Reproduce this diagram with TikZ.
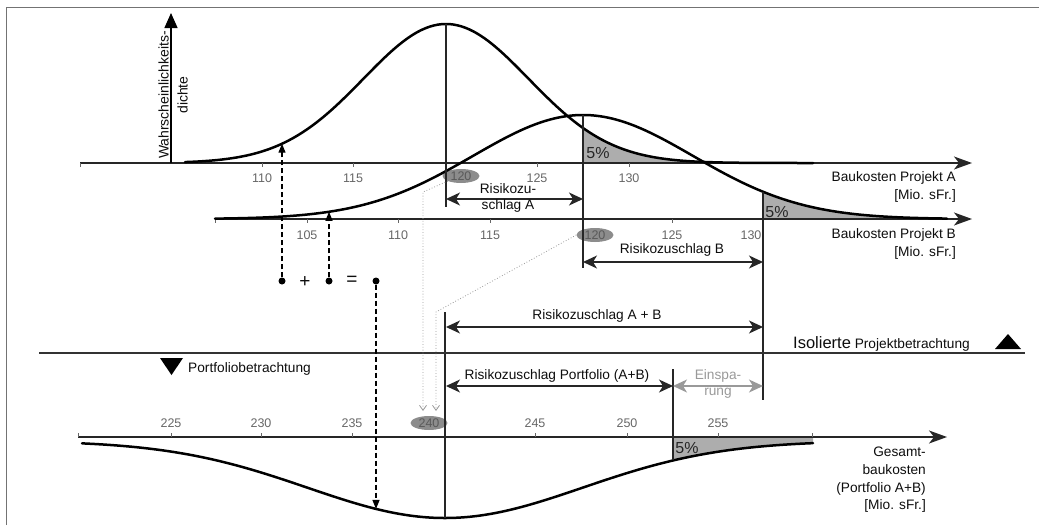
\documentclass[tikz,border=0pt]{standalone}
\usepackage{fontspec}
\setmainfont{Liberation Sans}
\usetikzlibrary{arrows.meta,shapes.geometric}
\begin{document}
\begin{tikzpicture}[x=1pt,y=-1pt,
  declare function={
    fa(\x)=163-139*exp(-0.5*((\x-446)/82.5)*((\x-446)/82.5));
    fb(\x)=219-104*exp(-0.5*((\x-583)/110)*((\x-583)/110));
    fp(\x)=441+77*exp(-0.5*((\x-445)/137.5)*((\x-445)/137.5));
  },
  lbl/.style={font=\fontsize{13.7}{18}\selectfont, text=black!95, inner sep=0pt, align=center},
  rlbl/.style={font=\fontsize{13.7}{17.7}\selectfont, text=black!95, inner sep=0pt, align=right, anchor=east},
  ticklbl/.style={font=\fontsize{12.5}{14}\selectfont, text=black!60, inner sep=0pt},
  pct/.style={font=\fontsize{16}{18}\selectfont, text=black!85, inner sep=0pt},
  oval/.style={ellipse, fill=black!45, text=black!65, inner sep=0pt, minimum width=37pt, minimum height=14pt, font=\fontsize{12.5}{14}\selectfont},
  axisline/.style={line width=1.3pt, black!85, -{Stealth[length=18pt,width=13pt,inset=5pt]}},
  curve/.style={line width=2.5pt, line join=round, line cap=round},
  vline/.style={line width=1.2pt, black!85},
  tickmark/.style={line width=0.8pt, black!60},
  dbl/.style={line width=1.3pt, black!85, {Stealth[length=14pt,width=13pt,inset=4pt]}-{Stealth[length=14pt,width=13pt,inset=4pt]}},
  dblgray/.style={line width=1.3pt, black!40, {Stealth[length=14pt,width=13pt,inset=4pt]}-{Stealth[length=14pt,width=13pt,inset=4pt]}},
  dasharr/.style={line width=1.3pt, dash pattern=on 5pt off 3pt, -{Triangle[length=9pt,width=7pt]}},
  dotarr/.style={line width=0.8pt, black!40, dotted, -{Straight Barb[length=5pt,width=7pt]}},
  knot/.style={circle, fill=black, inner sep=0pt, minimum size=7pt},
  shade5/.style={fill=black!32},
]
\useasboundingbox (0,0) rectangle (1039,525);
% frame
\coordinate (fr1) at (6,525); \coordinate (fr2) at (6,7); \coordinate (fr3) at (1039,7);
\draw[line width=1pt, black!55] (fr1) -- (fr2) -- (fr3);

% shaded tails
\fill[shade5] (583,163) -- plot[domain=583:813,samples=60] (\x,{fa(\x)}) -- (813,163) -- cycle;
\fill[shade5] (763,219) -- plot[domain=763:947,samples=60] (\x,{fb(\x)}) -- (947,219) -- cycle;
\fill[shade5] (673,437) -- plot[domain=673:813,samples=60] (\x,{fp(\x)}) -- (813,437) -- cycle;

% axes
\coordinate (axA0) at (80,163); \coordinate (axA1) at (972,163);
\coordinate (axB0) at (215,219); \coordinate (axB1) at (972,219);
\coordinate (axP0) at (78,437); \coordinate (axP1) at (947,437);
\draw[axisline] (axA0) -- (axA1);
\draw[axisline] (axB0) -- (axB1);
\draw[axisline] (axP0) -- (axP1);
\coordinate (dens0) at (171,163); \coordinate (dens1) at (171,13);
\draw[line width=1.3pt, -{Triangle[length=15pt,width=13pt]}] (dens0) -- (dens1);

% ticks
\foreach \t in {80,262,353,446,537,629} \draw[tickmark] (\t,163) -- (\t,167);
\foreach \t in {215,307,398,490,672} \draw[tickmark] (\t,219) -- (\t,223);
\foreach \t in {78,171,261,352,445,535,627,718,812} \draw[tickmark] (\t,437) -- (\t,433);

% tick labels
\node[ticklbl] (a110) at (262,178) {110};
\node[ticklbl] (a115) at (353,178) {115};
\node[ticklbl] (a125) at (537,178) {125};
\node[ticklbl] (a130) at (629,178) {130};
\node[oval] (a120) at (461,176) {120};
\node[ticklbl] (b105) at (307,235) {105};
\node[ticklbl] (b110) at (398,235) {110};
\node[ticklbl] (b115) at (490,235) {115};
\node[ticklbl] (b125) at (672,235) {125};
\node[ticklbl] (b130) at (751,235) {130};
\node[oval] (b120) at (595,235) {120};
\node[ticklbl] (p225) at (171,423) {225};
\node[ticklbl] (p230) at (261,423) {230};
\node[ticklbl] (p235) at (352,423) {235};
\node[ticklbl] (p245) at (535,423) {245};
\node[ticklbl] (p250) at (627,423) {250};
\node[ticklbl] (p255) at (718,423) {255};
\node[oval] (p240) at (429,423) {240};

% curves
\draw[curve] plot[domain=185:813,samples=160,smooth] (\x,{fa(\x)});
\draw[curve] plot[domain=215:947,samples=180,smooth] (\x,{fb(\x)});
\draw[curve] plot[domain=82:813,samples=180,smooth] (\x,{fp(\x)});

% vertical lines
\coordinate (v1t) at (446,{fa(446)}); \coordinate (v1b) at (446,207);
\coordinate (v2t) at (583,{fb(583)}); \coordinate (v2b) at (583,268);
\coordinate (v3t) at (763,{fb(763)}); \coordinate (v3b) at (763,400);
\coordinate (v4t) at (445,312); \coordinate (v4b) at (445,{fp(445)});
\coordinate (v5t) at (673,369); \coordinate (v5b) at (673,{fp(673)});
\draw[vline] (v1t) -- (v1b);
\draw[vline] (v2t) -- (v2b);
\draw[vline] (v3t) -- (v3b);
\draw[vline] (v4t) -- (v4b);
\draw[vline] (v5t) -- (v5b);

% percent labels
\node[pct] (pA) at (598,153) {5\%};
\node[pct] (pB) at (777,212) {5\%};
\node[pct] (pP) at (687,448) {5\%};

% risk arrows
\coordinate (ra1) at (446,199); \coordinate (ra2) at (583,199);
\coordinate (rb1) at (583,262); \coordinate (rb2) at (763,262);
\coordinate (rab1) at (446,327); \coordinate (rab2) at (763,327);
\coordinate (rp1) at (446,386); \coordinate (rp2) at (673,386);
\coordinate (es1) at (673,386); \coordinate (es2) at (763,386);
\draw[dbl] (ra1) -- (ra2);
\draw[dbl] (rb1) -- (rb2);
\draw[dbl] (rab1) -- (rab2);
\draw[dbl] (rp1) -- (rp2);
\draw[dblgray] (es1) -- (es2);
\node[lbl, font=\fontsize{13.7}{16}\selectfont] (tRA) at (508,198) {Risikozu-\\schlag A};
\node[lbl] (tRB) at (672,250) {Risikozuschlag B};
\node[lbl] (tRAB) at (597,316) {Risikozuschlag A + B};
\node[lbl] (tRP) at (557,376) {Risikozuschlag Portfolio (A+B)};
\node[lbl, text=black!40, font=\fontsize{13.7}{16.5}\selectfont] (tES) at (718,384) {Einspa-\\rung};

% separator
\coordinate (sep0) at (39,353); \coordinate (sep1) at (1025,353);
\draw[line width=1.3pt, black!80] (sep0) -- (sep1);
\node[lbl, anchor=base west] (tIso) at (793,348) {{\fontsize{16.5}{18}\selectfont Isolierte} Projektbetrachtung};
\fill (995,349) -- (1021,349) -- (1008,334) -- cycle;
\fill (160,358) -- (183,358) -- (171.5,375) -- cycle;
\node[lbl, anchor=west] (tPort) at (188,369) {Portfoliobetrachtung};

% axis labels
\node[rlbl] (lA) at (956,187) {Baukosten Projekt A\\{[Mio. sFr.]}};
\node[rlbl] (lB) at (956,244) {Baukosten Projekt B\\{[Mio. sFr.]}};
\node[rlbl] (lP) at (926,480) {Gesamt-\\baukosten\\(Portfolio A+B)\\{[Mio. sFr.]}};
\node[lbl, font=\fontsize{14}{19}\selectfont, rotate=90] (lD) at (173,95) {Wahrscheinlichkeits-\\dichte};

% sum construction
\node[knot] (k1) at (282,281) {};
\node[knot] (k2) at (329,281) {};
\node[knot] (k3) at (376,281) {};
\node[lbl, font=\fontsize{19}{20}\selectfont] (plus) at (305,282) {+};
\node[lbl, font=\fontsize{19}{20}\selectfont] (eq) at (352,281) {=};
\coordinate (ka) at (282,{fa(282)});
\coordinate (kb) at (329,{fb(329)});
\coordinate (kp) at (376,{fp(376)});
\draw[dasharr] (k1) -- (ka);
\draw[dasharr] (k2) -- (kb);
\draw[dasharr] (k3) -- (kp);

% dotted projections
\coordinate (d1a) at (423,192); \coordinate (d1b) at (423,411);
\coordinate (d2a) at (436,312); \coordinate (d2b) at (436,411);
\draw[dotarr] (a120.south west) -- (d1a) -- (d1b);
\draw[dotarr] (b120.west) -- (d2a) -- (d2b);
\end{tikzpicture}
\end{document}
